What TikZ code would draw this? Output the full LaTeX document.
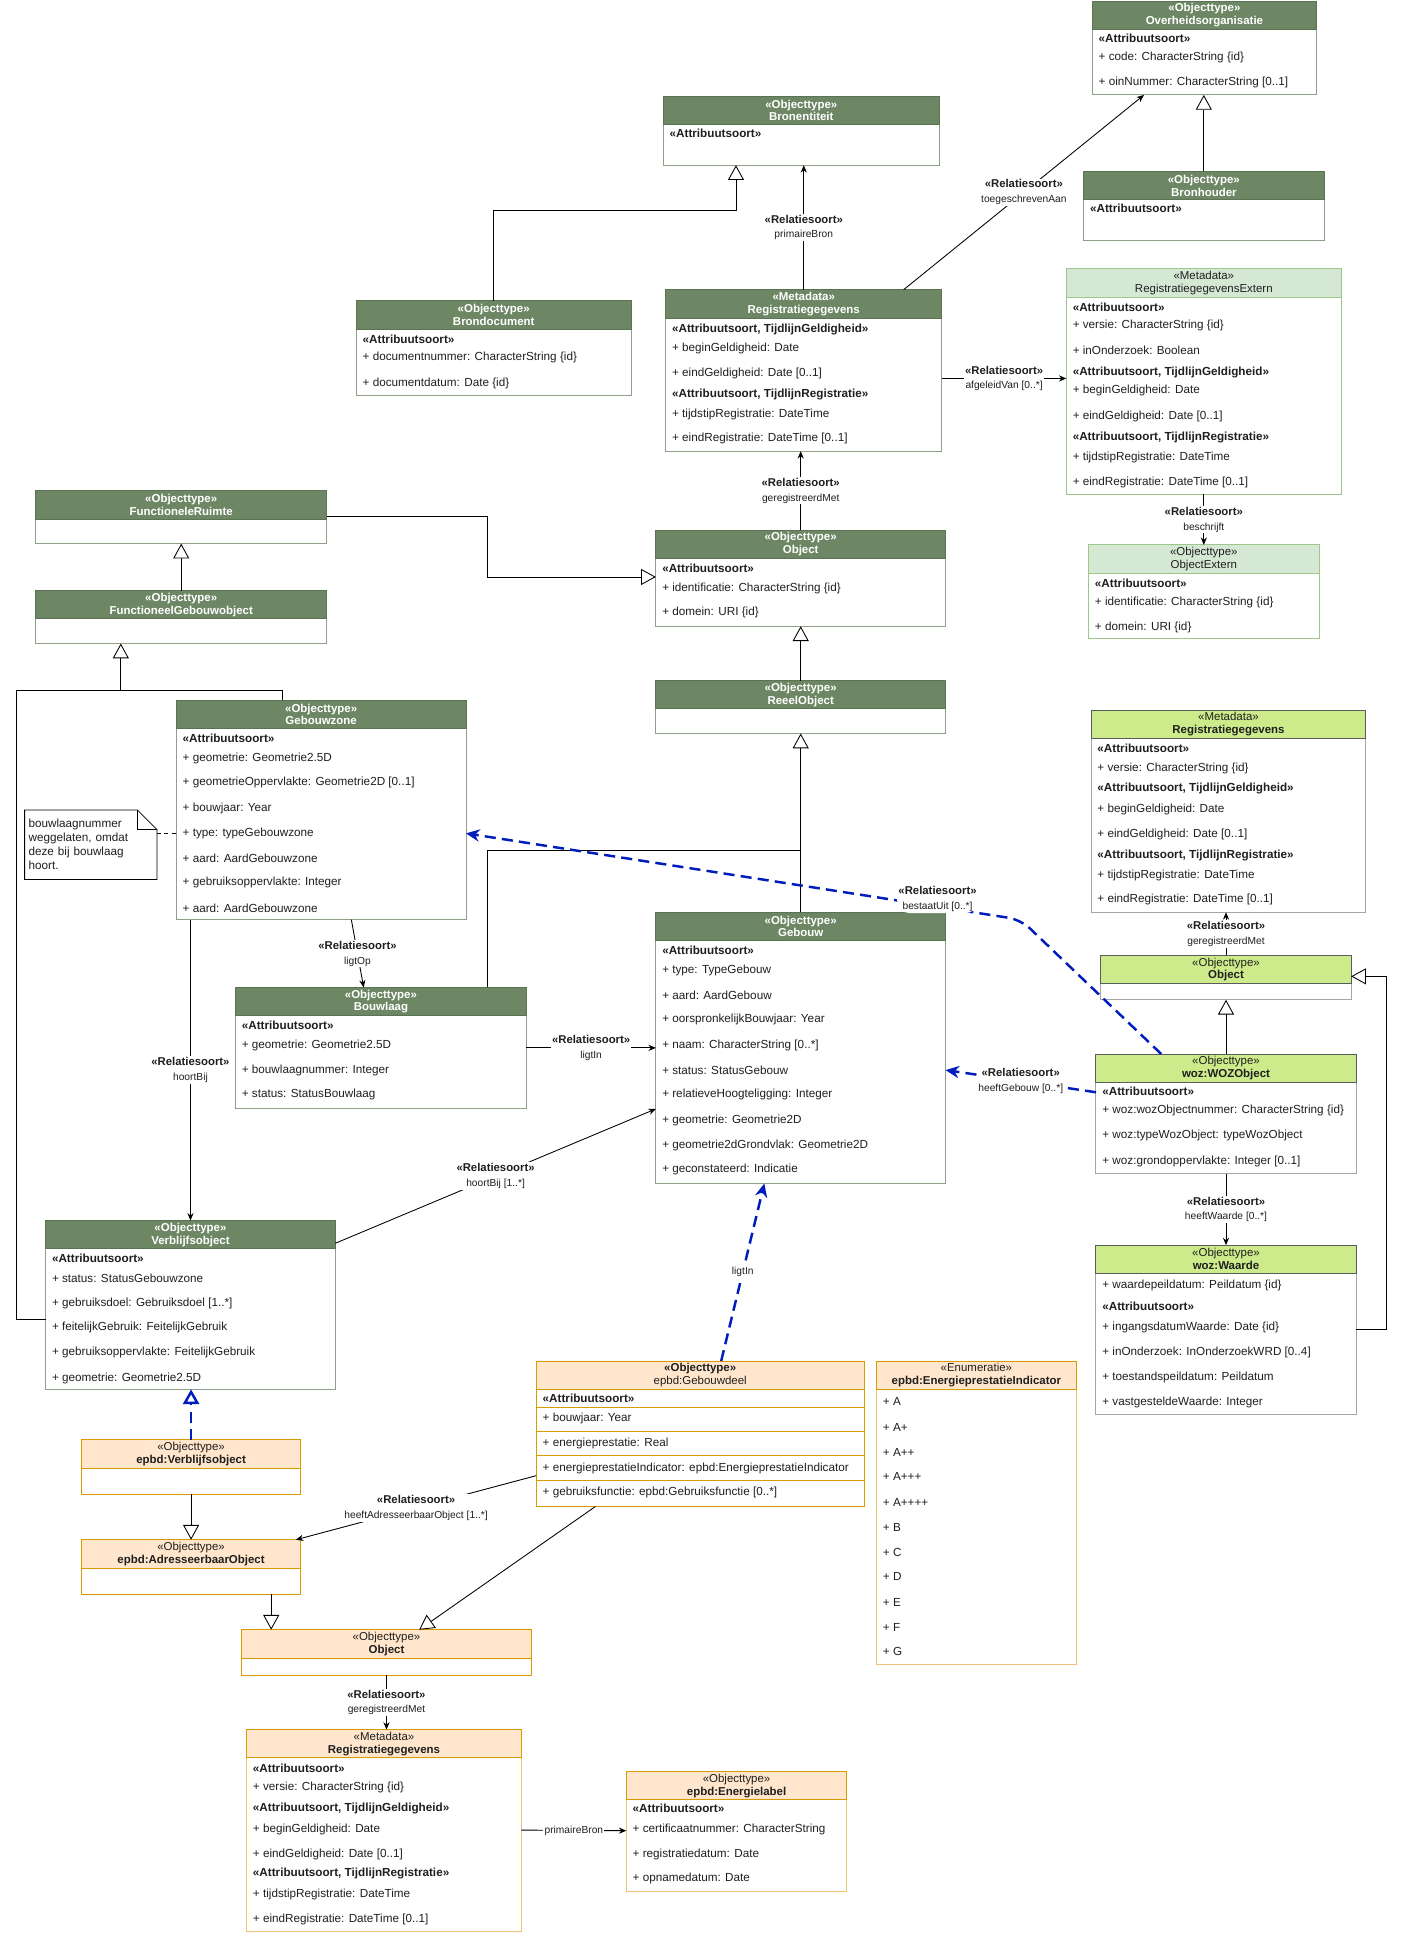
\documentclass[tikz,border=0pt]{standalone}
\usepackage{fontspec}
\setmainfont{Liberation Sans}
\usepackage{xcolor}
\usepackage{tikz}
\usetikzlibrary{arrows.meta, positioning}

\definecolor{hdgreen}{HTML}{6D8764}
\definecolor{hdgreenline}{HTML}{5A7352}
\definecolor{bdgreenline}{HTML}{8FA08A}
\definecolor{ltgreen}{HTML}{D5E8D4}
\definecolor{ltgreenline}{HTML}{9CC68A}
\definecolor{lime}{HTML}{CDEB8B}
\definecolor{limeline}{HTML}{5A5D60}
\definecolor{limebody}{HTML}{A6A6A6}
\definecolor{peach}{HTML}{FFE6CC}
\definecolor{peachline}{HTML}{D79B00}
\definecolor{peachbody}{HTML}{EDC37A}
\definecolor{wozblue}{HTML}{001DBC}
\definecolor{rowtext}{HTML}{1F1F1F}

\newcommand{\hdfont}{\fontsize{9.3}{10.4}\selectfont}
\newcommand{\rowfont}{\fontsize{9.5}{11}\selectfont}
\newcommand{\rsfont}{\fontsize{9.2}{10.5}\selectfont\bfseries}
\newcommand{\lbfont}{\fontsize{8.3}{9.5}\selectfont}
\newcommand{\relsoort}[1]{{\rsfont «Relatiesoort»}\\{\lbfont #1}}

\begin{document}
\begin{tikzpicture}[x=1pt, y=-1pt, >=Stealth,
    hdrdark/.style={fill=hdgreen, draw=hdgreenline, line width=0.8pt, text=white, font=\hdfont\bfseries, align=center, minimum height=23pt, inner sep=0pt, outer sep=0pt},
    bodydark/.style={fill=white, draw=bdgreenline, line width=0.8pt, inner sep=0pt, outer sep=0pt},
    hdrlight/.style={hdrdark, fill=ltgreen, draw=ltgreenline, text=rowtext, font=\hdfont},
    bodylight/.style={bodydark, draw=ltgreenline},
    hdrlime/.style={hdrdark, fill=lime, draw=limeline, text=rowtext, font=\hdfont},
    bodylime/.style={bodydark, draw=limebody},
    hdrpeach/.style={hdrdark, fill=peach, draw=peachline, text=rowtext, font=\hdfont},
    bodypeach/.style={bodydark, draw=peachline},
    bodypale/.style={bodydark, draw=peachbody},
    attr/.style={anchor=west, inner sep=0pt, font=\rowfont, text=rowtext},
    attrb/.style={attr, font=\rowfont\bfseries},
    plain/.style={draw=black, line width=0.7pt},
    gen/.style={plain, -{Triangle[fill=white, length=12pt, width=13pt]}},
    assoc/.style={plain, -{Stealth[length=6pt, width=5pt]}},
    bluedash/.style={draw=wozblue, line width=2pt, dash pattern=on 9pt off 5pt, -{Stealth[length=11pt, width=10pt]}},
    bluegen/.style={draw=wozblue, line width=2pt, dash pattern=on 9pt off 5pt, -{Triangle[open, length=12pt, width=13pt]}},
    lbl/.style={fill=white, align=center, inner sep=1pt, text=rowtext},
    lblsmall/.style={fill=white, inner sep=1pt, font=\lbfont, text=rowtext},
    notebox/.style={anchor=north west, align=left, font=\fontsize{9.5}{11.4}\selectfont, text=rowtext, inner xsep=3pt, inner ysep=0pt, text width=101pt, minimum width=107pt, minimum height=56pt}]

    \fill[white] (0,0) rectangle (1139,1568);
    \useasboundingbox (0,0) rectangle (1139,1568);

    % bovenste rij
    \node (ov-b) [bodydark, anchor=north west, minimum width=182pt, minimum height=53pt] at (886,24) {};
    \node (ov) [hdrdark, minimum width=182pt, above=0pt of ov-b] {«Objecttype»\\Overheidsorganisatie};
    \node (ov-1) [attrb] at (891,31) {«Attribuutsoort»};
    \node (ov-2) [attr] at (891,47) {+ code: CharacterString \{id\}};
    \node (ov-3) [attr] at (891,67) {+ oinNummer: CharacterString [0..1]};

    \node (bh-b) [bodydark, anchor=north west, minimum width=195pt, minimum height=33pt] at (879,162) {};
    \node (bh) [hdrdark, minimum width=195pt, above=0pt of bh-b] {«Objecttype»\\Bronhouder};
    \node (bh-1) [attrb] at (884,169) {«Attribuutsoort»};

    \node (be-b) [bodydark, anchor=north west, minimum width=224pt, minimum height=33pt] at (538,101) {};
    \node (be) [hdrdark, minimum width=224pt, above=0pt of be-b] {«Objecttype»\\Bronentiteit};
    \node (be-1) [attrb] at (543,108) {«Attribuutsoort»};

    \node (bd-b) [bodydark, anchor=north west, minimum width=223pt, minimum height=54pt] at (289,267) {};
    \node (bd) [hdrdark, minimum width=223pt, above=0pt of bd-b] {«Objecttype»\\Brondocument};
    \node (bd-1) [attrb] at (294,275) {«Attribuutsoort»};
    \node (bd-2) [attr] at (294,290) {+ documentnummer: CharacterString \{id\}};
    \node (bd-3) [attr] at (294,311) {+ documentdatum: Date \{id\}};

    \node (rg-b) [bodydark, anchor=north west, minimum width=224pt, minimum height=108pt] at (540,258) {};
    \node (rg) [hdrdark, minimum width=224pt, above=0pt of rg-b] {«Metadata»\\Registratiegegevens};
    \node (rg-1) [attrb] at (545,267) {«Attribuutsoort, TijdlijnGeldigheid»};
    \node (rg-2) [attr] at (545,283) {+ beginGeldigheid: Date};
    \node (rg-3) [attr] at (545,303) {+ eindGeldigheid: Date [0..1]};
    \node (rg-4) [attrb] at (545,320) {«Attribuutsoort, TijdlijnRegistratie»};
    \node (rg-5) [attr] at (545,336) {+ tijdstipRegistratie: DateTime};
    \node (rg-6) [attr] at (545,356) {+ eindRegistratie: DateTime [0..1]};

    \node (rge-b) [bodylight, anchor=north west, minimum width=223pt, minimum height=160pt] at (865,241) {};
    \node (rge) [hdrlight, minimum width=223pt, above=0pt of rge-b] {«Metadata»\\RegistratiegegevensExtern};
    \node (rge-1) [attrb] at (870,249) {«Attribuutsoort»};
    \node (rge-2) [attr] at (870,264) {+ versie: CharacterString \{id\}};
    \node (rge-3) [attr] at (870,284) {+ inOnderzoek: Boolean};
    \node (rge-4) [attrb] at (870,302) {«Attribuutsoort, TijdlijnGeldigheid»};
    \node (rge-5) [attr] at (870,317) {+ beginGeldigheid: Date};
    \node (rge-6) [attr] at (870,338) {+ eindGeldigheid: Date [0..1]};
    \node (rge-7) [attrb] at (870,355) {«Attribuutsoort, TijdlijnRegistratie»};
    \node (rge-8) [attr] at (870,371) {+ tijdstipRegistratie: DateTime};
    \node (rge-9) [attr] at (870,391) {+ eindRegistratie: DateTime [0..1]};

    \node (oe-b) [bodylight, anchor=north west, minimum width=187pt, minimum height=53pt] at (883,465) {};
    \node (oe) [hdrlight, minimum width=187pt, above=0pt of oe-b] {«Objecttype»\\ObjectExtern};
    \node (oe-1) [attrb] at (888,473) {«Attribuutsoort»};
    \node (oe-2) [attr] at (888,489) {+ identificatie: CharacterString \{id\}};
    \node (oe-3) [attr] at (888,509) {+ domein: URI \{id\}};

    % midden
    \node (fr-b) [bodydark, anchor=north west, minimum width=236pt, minimum height=20pt] at (29,421) {};
    \node (fr) [hdrdark, minimum width=236pt, above=0pt of fr-b] {«Objecttype»\\FunctioneleRuimte};

    \node (fgo-b) [bodydark, anchor=north west, minimum width=236pt, minimum height=20pt] at (29,502) {};
    \node (fgo) [hdrdark, minimum width=236pt, above=0pt of fgo-b] {«Objecttype»\\FunctioneelGebouwobject};

    \node (ob-b) [bodydark, anchor=north west, minimum width=235pt, minimum height=55pt] at (532,453) {};
    \node (ob) [hdrdark, minimum width=235pt, above=0pt of ob-b] {«Objecttype»\\Object};
    \node (ob-1) [attrb] at (537,461) {«Attribuutsoort»};
    \node (ob-2) [attr] at (537,477) {+ identificatie: CharacterString \{id\}};
    \node (ob-3) [attr] at (537,497) {+ domein: URI \{id\}};

    \node (ro-b) [bodydark, anchor=north west, minimum width=235pt, minimum height=20pt] at (532,575) {};
    \node (ro) [hdrdark, minimum width=235pt, above=0pt of ro-b] {«Objecttype»\\ReeelObject};

    \node (gz-b) [bodydark, anchor=north west, minimum width=235pt, minimum height=155pt] at (143,591) {};
    \node (gz) [hdrdark, minimum width=235pt, above=0pt of gz-b] {«Objecttype»\\Gebouwzone};
    \node (gz-1) [attrb] at (148,599) {«Attribuutsoort»};
    \node (gz-2) [attr] at (148,615) {+ geometrie: Geometrie2.5D};
    \node (gz-3) [attr] at (148,635) {+ geometrieOppervlakte: Geometrie2D [0..1]};
    \node (gz-4) [attr] at (148,656) {+ bouwjaar: Year};
    \node (gz-5) [attr] at (148,676) {+ type: typeGebouwzone};
    \node (gz-6) [attr] at (148,696) {+ aard: AardGebouwzone};
    \node (gz-7) [attr] at (148,716) {+ gebruiksoppervlakte: Integer};
    \node (gz-8) [attr] at (148,737) {+ aard: AardGebouwzone};

    \node (nt) [notebox] at (20,657) {bouwlaagnummer\\weggelaten, omdat\\deze bij bouwlaag\\hoort.};
    \draw[plain] (nt.north west) -- ([xshift=-16pt]nt.north east) -- ([yshift=-16pt]nt.north east) -- (nt.south east) -- (nt.south west) -- cycle;
    \draw[plain] ([xshift=-16pt]nt.north east) |- ([yshift=-16pt]nt.north east);

    \node (bl-b) [bodydark, anchor=north west, minimum width=236pt, minimum height=75pt] at (191,824) {};
    \node (bl) [hdrdark, minimum width=236pt, above=0pt of bl-b] {«Objecttype»\\Bouwlaag};
    \node (bl-1) [attrb] at (196,832) {«Attribuutsoort»};
    \node (bl-2) [attr] at (196,848) {+ geometrie: Geometrie2.5D};
    \node (bl-3) [attr] at (196,868) {+ bouwlaagnummer: Integer};
    \node (bl-4) [attr] at (196,888) {+ status: StatusBouwlaag};

    \node (gb-b) [bodydark, anchor=north west, minimum width=235pt, minimum height=197pt] at (532,763) {};
    \node (gb) [hdrdark, minimum width=235pt, above=0pt of gb-b] {«Objecttype»\\Gebouw};
    \node (gb-1) [attrb] at (537,771) {«Attribuutsoort»};
    \node (gb-2) [attr] at (537,787) {+ type: TypeGebouw};
    \node (gb-3) [attr] at (537,807) {+ aard: AardGebouw};
    \node (gb-4) [attr] at (537,827) {+ oorspronkelijkBouwjaar: Year};
    \node (gb-5) [attr] at (537,848) {+ naam: CharacterString [0..*]};
    \node (gb-6) [attr] at (537,868) {+ status: StatusGebouw};
    \node (gb-7) [attr] at (537,888) {+ relatieveHoogteligging: Integer};
    \node (gb-8) [attr] at (537,909) {+ geometrie: Geometrie2D};
    \node (gb-9) [attr] at (537,929) {+ geometrie2dGrondvlak: Geometrie2D};
    \node (gb-10) [attr] at (537,949) {+ geconstateerd: Indicatie};

    \node (vo-b) [bodydark, anchor=north west, minimum width=235pt, minimum height=114pt] at (37,1013) {};
    \node (vo) [hdrdark, minimum width=235pt, above=0pt of vo-b] {«Objecttype»\\Verblijfsobject};
    \node (vo-1) [attrb] at (42,1021) {«Attribuutsoort»};
    \node (vo-2) [attr] at (42,1037) {+ status: StatusGebouwzone};
    \node (vo-3) [attr] at (42,1057) {+ gebruiksdoel: Gebruiksdoel [1..*]};
    \node (vo-4) [attr] at (42,1077) {+ feitelijkGebruik: FeitelijkGebruik};
    \node (vo-5) [attr] at (42,1097) {+ gebruiksoppervlakte: FeitelijkGebruik};
    \node (vo-6) [attr] at (42,1118) {+ geometrie: Geometrie2.5D};

    % woz
    \node (mr-b) [bodylime, anchor=north west, minimum width=223pt, minimum height=141pt] at (885,599) {};
    \node (mr) [hdrlime, minimum width=223pt, above=0pt of mr-b] {«Metadata»\\\textbf{Registratiegegevens}};
    \node (mr-1) [attrb] at (890,607) {«Attribuutsoort»};
    \node (mr-2) [attr] at (890,623) {+ versie: CharacterString \{id\}};
    \node (mr-3) [attrb] at (890,640) {«Attribuutsoort, TijdlijnGeldigheid»};
    \node (mr-4) [attr] at (890,657) {+ beginGeldigheid: Date};
    \node (mr-5) [attr] at (890,677) {+ eindGeldigheid: Date [0..1]};
    \node (mr-6) [attrb] at (890,694) {«Attribuutsoort, TijdlijnRegistratie»};
    \node (mr-7) [attr] at (890,710) {+ tijdstipRegistratie: DateTime};
    \node (mr-8) [attr] at (890,730) {+ eindRegistratie: DateTime [0..1]};

    \node (gob-b) [bodylime, anchor=north west, minimum width=203pt, minimum height=13pt] at (893,798) {};
    \node (gob) [hdrlime, minimum width=203pt, above=0pt of gob-b] {«Objecttype»\\\textbf{Object}};

    \node (woz-b) [bodylime, anchor=north west, minimum width=211pt, minimum height=74pt] at (889,878) {};
    \node (woz) [hdrlime, minimum width=211pt, above=0pt of woz-b] {«Objecttype»\\\textbf{woz:WOZObject}};
    \node (woz-1) [attrb] at (894,885) {«Attribuutsoort»};
    \node (woz-2) [attr] at (894,901) {+ woz:wozObjectnummer: CharacterString \{id\}};
    \node (woz-3) [attr] at (894,921) {+ woz:typeWozObject: typeWozObject};
    \node (woz-4) [attr] at (894,942) {+ woz:grondoppervlakte: Integer [0..1]};

    \node (wa-b) [bodylime, anchor=north west, minimum width=211pt, minimum height=114pt] at (889,1033) {};
    \node (wa) [hdrlime, minimum width=211pt, above=0pt of wa-b] {«Objecttype»\\\textbf{woz:Waarde}};
    \node (wa-1) [attr] at (894,1043) {+ waardepeildatum: Peildatum \{id\}};
    \node (wa-2) [attrb] at (894,1060) {«Attribuutsoort»};
    \node (wa-3) [attr] at (894,1077) {+ ingangsdatumWaarde: Date \{id\}};
    \node (wa-4) [attr] at (894,1097) {+ inOnderzoek: InOnderzoekWRD [0..4]};
    \node (wa-5) [attr] at (894,1117) {+ toestandspeildatum: Peildatum};
    \node (wa-6) [attr] at (894,1138) {+ vastgesteldeWaarde: Integer};

    % epbd
    \node (gd-b) [bodypeach, anchor=north west, minimum width=266pt, minimum height=95pt] at (435,1127) {};
    \node (gd) [hdrpeach, minimum width=266pt, above=0pt of gd-b] {\textbf{«Objecttype»}\\epbd:Gebouwdeel};
    \draw[draw=peachline, line width=0.8pt] ([yshift=-15pt]gd-b.north west) -- ([yshift=-15pt]gd-b.north east);
    \draw[draw=peachline, line width=0.8pt] ([yshift=-34pt]gd-b.north west) -- ([yshift=-34pt]gd-b.north east);
    \draw[draw=peachline, line width=0.8pt] ([yshift=-54pt]gd-b.north west) -- ([yshift=-54pt]gd-b.north east);
    \draw[draw=peachline, line width=0.8pt] ([yshift=-74pt]gd-b.north west) -- ([yshift=-74pt]gd-b.north east);
    \node (gd-1) [attrb] at (440,1134) {«Attribuutsoort»};
    \node (gd-2) [attr] at (440,1151) {+ bouwjaar: Year};
    \node (gd-3) [attr] at (440,1171) {+ energieprestatie: Real};
    \node (gd-4) [attr] at (440,1191) {+ energieprestatieIndicator: epbd:EnergieprestatieIndicator};
    \node (gd-5) [attr] at (440,1211) {+ gebruiksfunctie: epbd:Gebruiksfunctie [0..*]};

    \node (epi-b) [bodypale, anchor=north west, minimum width=162pt, minimum height=223pt] at (711,1127) {};
    \node (epi) [hdrpeach, minimum width=162pt, above=0pt of epi-b] {«Enumeratie»\\\textbf{epbd:EnergieprestatieIndicator}};
    \node (epi-1) [attr] at (716,1137) {+ A};
    \node (epi-2) [attr] at (716,1158) {+ A+};
    \node (epi-3) [attr] at (716,1178) {+ A++};
    \node (epi-4) [attr] at (716,1198) {+ A+++};
    \node (epi-5) [attr] at (716,1219) {+ A++++};
    \node (epi-6) [attr] at (716,1239) {+ B};
    \node (epi-7) [attr] at (716,1259) {+ C};
    \node (epi-8) [attr] at (716,1279) {+ D};
    \node (epi-9) [attr] at (716,1300) {+ E};
    \node (epi-10) [attr] at (716,1320) {+ F};
    \node (epi-11) [attr] at (716,1340) {+ G};

    \node (evo-b) [bodypeach, anchor=north west, minimum width=178pt, minimum height=21pt] at (66,1191) {};
    \node (evo) [hdrpeach, minimum width=178pt, above=0pt of evo-b] {«Objecttype»\\\textbf{epbd:Verblijfsobject}};

    \node (eao-b) [bodypeach, anchor=north west, minimum width=178pt, minimum height=21pt] at (66,1272) {};
    \node (eao) [hdrpeach, minimum width=178pt, above=0pt of eao-b] {«Objecttype»\\\textbf{epbd:AdresseerbaarObject}};

    \node (eob-b) [bodypeach, anchor=north west, minimum width=235pt, minimum height=14pt] at (196,1345) {};
    \node (eob) [hdrpeach, minimum width=235pt, above=0pt of eob-b] {«Objecttype»\\\textbf{Object}};

    \node (rgo-b) [bodypale, anchor=north west, minimum width=223pt, minimum height=141pt] at (200,1426) {};
    \node (rgo) [hdrpeach, minimum width=223pt, above=0pt of rgo-b] {«Metadata»\\\textbf{Registratiegegevens}};
    \node (rgo-1) [attrb] at (205,1434) {«Attribuutsoort»};
    \node (rgo-2) [attr] at (205,1450) {+ versie: CharacterString \{id\}};
    \node (rgo-3) [attrb] at (205,1467) {«Attribuutsoort, TijdlijnGeldigheid»};
    \node (rgo-4) [attr] at (205,1484) {+ beginGeldigheid: Date};
    \node (rgo-5) [attr] at (205,1504) {+ eindGeldigheid: Date [0..1]};
    \node (rgo-6) [attrb] at (205,1520) {«Attribuutsoort, TijdlijnRegistratie»};
    \node (rgo-7) [attr] at (205,1537) {+ tijdstipRegistratie: DateTime};
    \node (rgo-8) [attr] at (205,1557) {+ eindRegistratie: DateTime [0..1]};

    \node (el-b) [bodypale, anchor=north west, minimum width=179pt, minimum height=74pt] at (508,1460) {};
    \node (el) [hdrpeach, minimum width=179pt, above=0pt of el-b] {«Objecttype»\\\textbf{epbd:Energielabel}};
    \node (el-1) [attrb] at (513,1467) {«Attribuutsoort»};
    \node (el-2) [attr] at (513,1484) {+ certificaatnummer: CharacterString};
    \node (el-3) [attr] at (513,1504) {+ registratiedatum: Date};
    \node (el-4) [attr] at (513,1524) {+ opnamedatum: Date};

    % knikpunten
    \coordinate (be-knik) at (597,171);
    \coordinate (rg-uit) at (815,307);
    \coordinate (fr-knik) at (395,468);
    \coordinate (fgo-knik) at (98,560);
    \coordinate (links) at (13,560);
    \coordinate (ro-knik) at (649.5,690);
    \coordinate (bl-uit) at (480,850);
    \coordinate (bu-knik) at (828,746);
    \coordinate (wa-knik) at (1125,792);

    % verbindingen
    \draw[gen] (bh.north) -- (bh.north |- ov-b.south);
    \draw[assoc] ([xshift=193pt]rg.north west) -- node[lbl] {\relsoort{toegeschrevenAan}} ([xshift=42pt]ov-b.south west);
    \draw[gen] (bd.north) |- (be-knik) -- (be-knik |- be-b.south);
    \draw[assoc] (rg.north) -- node[lbl] {\relsoort{primaireBron}} (rg.north |- be-b.south);
    \draw[assoc] (rg-b.east |- rg-uit) -- node[lbl] {\relsoort{afgeleidVan [0..*]}} (rge-b.west |- rg-uit);
    \draw[assoc] (rge-b.south) -- node[lbl] {\relsoort{beschrijft}} (oe.north);
    \draw[assoc] (ob.north) -- node[lbl] {\relsoort{geregistreerdMet}} (ob.north |- rg-b.south);

    \draw[gen] ([yshift=2pt]fr.south east) -| (fr-knik) -- (ob-b.west |- fr-knik);
    \draw[gen] (fgo.north) -- (fgo.north |- fr-b.south);
    \draw[gen] ([xshift=86pt]gz.north west) |- (fgo-knik) -- (fgo-knik |- fgo-b.south);
    \draw[plain] (vo-b.west) -| (links) -- (fgo-knik);
    \draw[gen] (ro.north) -- (ro.north |- ob-b.south);
    \draw[gen] (gb.north) -- (gb.north |- ro-b.south);
    \draw[plain] ([xshift=204pt]bl.north west) |- (ro-knik);

    \draw[plain, dashed] (nt.east |- gz-5) -- (gz-b.west |- gz-5);
    \draw[assoc] ([xshift=142pt]gz-b.south west) -- node[lbl] {\relsoort{ligtOp}} ([xshift=104pt]bl.north west);
    \draw[assoc] (vo.north |- gz-b.south) -- node[lbl] {\relsoort{hoortBij}} (vo.north);
    \draw[assoc] (bl-b.east |- bl-uit) -- node[lbl] {\relsoort{ligtIn}} (gb-b.west |- bl-uit);
    \draw[assoc] ([yshift=-7pt]vo.east) -- node[lbl] {\relsoort{hoortBij [1..*]}} ([yshift=-38pt]gb-b.west);

    \draw[bluedash, rounded corners=10pt] ([xshift=53pt]woz.north west) -- (bu-knik) -- node[lbl, pos=0.15, yshift=6pt] {\relsoort{bestaatUit [0..*]}} ([yshift=-7.5pt]gz-b.east);
    \draw[bluedash] ([yshift=29pt]woz-b.west) -- node[lbl] {\relsoort{heeftGebouw [0..*]}} ([yshift=-6.5pt]gb-b.east);
    \draw[bluedash] ([xshift=150pt]gd.north west) -- node[lblsmall] {ligtIn} ([xshift=88pt]gb-b.south west);
    \draw[bluegen] (evo.north) -- (evo.north |- vo-b.south);

    \draw[assoc] (gob.north) -- node[lbl] {\relsoort{geregistreerdMet}} (gob.north |- mr-b.south);
    \draw[gen] (woz.north) -- (woz.north |- gob-b.south);
    \draw[gen] ([yshift=12pt]wa-b.east) -| (wa-knik) -- (gob.east |- wa-knik);
    \draw[assoc] (woz-b.south) -- node[lbl] {\relsoort{heeftWaarde [0..*]}} (wa.north);

    \draw[gen] (evo-b.south) -- (eao.north);
    \draw[gen] ([xshift=154pt]eao-b.south west) -- ([xshift=24pt]eob.north west);
    \draw[gen] ([xshift=48pt]gd-b.south west) -- ([xshift=144pt]eob.north west);
    \draw[assoc] ([yshift=-22.5pt]gd-b.west) -- node[lbl] {\relsoort{heeftAdresseerbaarObject [1..*]}} ([xshift=-4pt]eao.north east);
    \draw[assoc] (eob-b.south) -- node[lbl] {\relsoort{geregistreerdMet}} (eob-b.south |- rgo.north);
    \draw[assoc] ([yshift=12pt]rgo-b.east) -- node[lblsmall] {primaireBron} ([yshift=12pt]el-b.west);
\end{tikzpicture}
\end{document}
